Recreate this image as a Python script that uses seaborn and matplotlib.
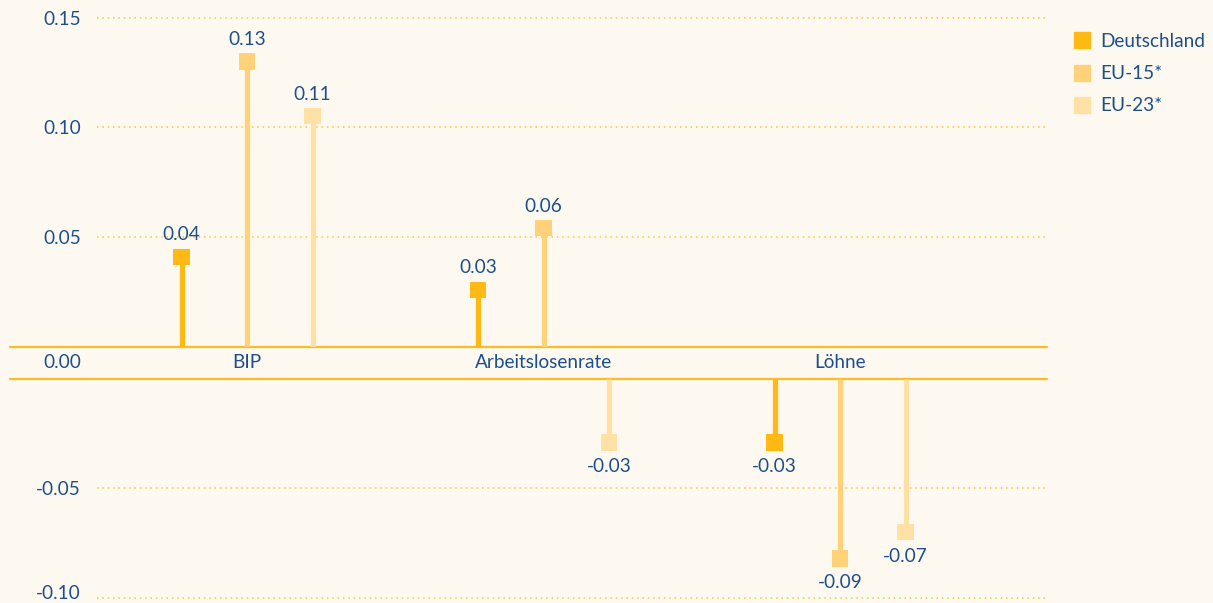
import matplotlib
matplotlib.use("Agg")
import matplotlib.pyplot as plt
from matplotlib.lines import Line2D
import seaborn as sns
import pandas as pd

# values
categories = ["BIP", "Arbeitslosenrate", "Löhne"]
series = ["Deutschland", "EU-15*", "EU-23*"]
deutschland = [0.041, 0.026, -0.029]
eu15 = [0.130, 0.054, -0.082]
eu23 = [0.105, -0.029, -0.070]
deutschland_lbl = ["0.04", "0.03", "-0.03"]
eu15_lbl = ["0.13", "0.06", "-0.09"]
eu23_lbl = ["0.11", "-0.03", "-0.07"]
top_ticks = [0.05, 0.10, 0.15]
bot_ticks = [-0.10, -0.05]

bg = "#FEF9F0"
txt = "#1D4F8C"
grid_col = "#FBC53A"
zero_col = "#FDBB25"
palette = {"Deutschland": "#FFB915", "EU-15*": "#FFD27A", "EU-23*": "#FFE0A5"}
fs = 13.7

sns.set_theme(style="white")
plt.rcParams["font.family"] = ["Lato", "DejaVu Sans"]

rows = []
for si, (name, vals, lbls) in enumerate(zip(series, [deutschland, eu15, eu23],
                                             [deutschland_lbl, eu15_lbl, eu23_lbl])):
    for ci, cat in enumerate(categories):
        rows.append({"serie": name, "cat": cat, "x": ci + (si - 1) * 0.221,
                     "value": vals[ci], "label": lbls[ci]})
df = pd.DataFrame(rows)

W, H = 1213, 603
fig = plt.figure(figsize=(W / 100, H / 100), dpi=100, facecolor=bg)
ax_top = fig.add_axes([97 / W, 1 - 346.7 / H, 950 / W, 346.7 / H])
ax_bot = fig.add_axes([97 / W, 0, 950 / W, 224 / H])

xlim = (-0.506, 2.698)
for ax, sub, ylim, ticks in [(ax_top, df[df.value > 0], (0, 0.158), top_ticks),
                             (ax_bot, df[df.value < 0], (-0.1023, 0), bot_ticks)]:
    ax.set_facecolor(bg)
    ax.set_xlim(*xlim)
    ax.set_ylim(*ylim)
    for s in ax.spines.values():
        s.set_visible(False)
    ax.hlines(ticks, xlim[0], xlim[1], colors=grid_col, linestyles=(0, (1, 2.5)),
              linewidth=1.1, zorder=1)
    ax.axhline(0, xmin=-87 / 950, xmax=1, color=zero_col, lw=1.6, clip_on=False, zorder=2)
    ax.vlines(sub.x, 0, sub.value, colors=[palette[s] for s in sub.serie],
              linewidth=3.8, zorder=3)
    sns.scatterplot(data=sub, x="x", y="value", hue="serie", palette=palette,
                    marker="s", s=135, linewidth=0, legend=False, zorder=4, ax=ax)
    for _, r in sub.iterrows():
        off = 22 if r.value > 0 else -24
        ax.annotate(r.label, (r.x, r.value), xytext=(0, off), textcoords="offset pixels",
                    ha="center", va="center", color=txt, fontsize=fs)
    ax.set_xticks([])
    ax.set_yticks(ticks)
    ax.set_yticklabels([f"{t:.2f}" if t > -0.1 else "" for t in ticks])
    ax.tick_params(axis="y", length=0, pad=11.5, labelsize=fs, labelcolor=txt)
    ax.set_xlabel("")
    ax.set_ylabel("")

# lowest tick label drawn by hand, nudged up so it stays inside the picture
ax_bot.annotate(f"{bot_ticks[0]:.2f}", (xlim[0], bot_ticks[0]), xytext=(-16, 4),
                textcoords="offset pixels", ha="right", va="center", color=txt,
                fontsize=fs, annotation_clip=False)

# labels in the gap between the two halves
for ci, cat in enumerate(categories):
    ax_bot.annotate(cat, (ci, 0), xytext=(0, 16.5), textcoords="offset pixels",
                    ha="center", va="center", color=txt, fontsize=fs, annotation_clip=False)
ax_bot.annotate("0.00", (xlim[0], 0), xytext=(-16, 16.5), textcoords="offset pixels",
                ha="right", va="center", color=txt, fontsize=fs, annotation_clip=False)

handles = [Line2D([], [], marker="s", ls="none", color=palette[s], markersize=11.5)
           for s in series]
leg = fig.legend(handles, series, loc="upper left", bbox_to_anchor=(1072 / W, 1 - 33 / H),
                 frameon=False, fontsize=fs, labelspacing=0.8, handlelength=1.0,
                 handletextpad=0.5, borderaxespad=0, borderpad=0)
for t in leg.get_texts():
    t.set_color(txt)

fig.savefig("out.png", dpi=100, facecolor=bg)
